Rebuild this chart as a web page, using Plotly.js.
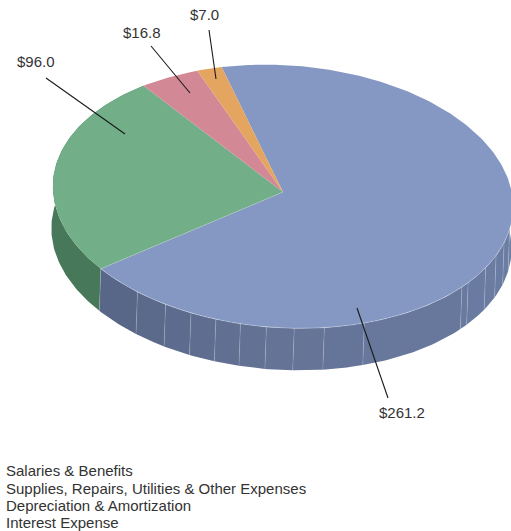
<!DOCTYPE html>
<html><head><meta charset="utf-8">
<script src="https://cdn.plot.ly/plotly-3.0.1.min.js"></script>
<style>html,body{margin:0;padding:0;background:#fff;overflow:hidden}#c{width:511px;height:531px}</style>
</head><body><div id="c"></div>
<script>
const categories = ["Salaries & Benefits","Supplies, Repairs, Utilities & Other Expenses","Depreciation & Amortization","Interest Expense"];
const values = [261.2, 96.0, 16.8, 7.0];
const valueLabels = ["$261.2","$96.0","$16.8","$7.0"];
const topColors = ["#8498c3","#72ae87","#d38896","#e3a560"];
const greenSide = "#47785a";
const facetAngles = [102,108,114,120,128,130.5,160,170,177.3,184,190.3,196.4,202.8,209.7,218];

const cx=283, cy=192, B=230, A=131.3, k=0.0342, shear=0.044, depth=42, lean=-1.5, startDeg=-16;
const rad=d=>d*Math.PI/180;
function rim(th,low){
  const u=Math.sin(rad(th)), v=Math.cos(rad(th)), d=1+k*v;
  const X=B*u/d, Y=-A*v/d+shear*X;
  return [cx+X+(low?lean:0), cy+Y+(low?depth:0)];
}
function arc(a,b,low){const p=[],n=Math.max(2,Math.ceil(Math.abs(b-a)));for(let i=0;i<=n;i++)p.push(rim(a+(b-a)*i/n,low));return p;}
function mix(c1,c2,t){return 'rgb('+c1.map((c,i)=>Math.round(c+(c2[i]-c)*t)).join(',')+')';}
function sideColor(th){
  const l=[86,101,134], m=[100,115,150], r=[107,126,164];
  return th>180?mix(m,l,(th-180)/50):mix(r,m,(th-100)/80);
}
const total=values.reduce((a,b)=>a+b,0);
const spans=[];let acc=startDeg;
values.forEach(v=>{spans.push([acc,acc+v/total*360]);acc+=v/total*360;});
const traces=[];
function poly(pts,color){traces.push({type:'scatter',mode:'lines',x:pts.map(p=>p[0]),y:pts.map(p=>p[1]),fill:'toself',fillcolor:color,line:{width:0},hoverinfo:'skip',showlegend:false});}
function stroke(pts,color,w){traces.push({type:'scatter',mode:'lines',x:pts.map(p=>p[0]),y:pts.map(p=>p[1]),line:{color:color,width:w},hoverinfo:'skip',showlegend:false});}
const blueEnd=spans[0][1];
poly(arc(blueEnd,spans[1][1],false).concat(arc(spans[1][1],blueEnd,true)),greenSide);
const edges=[85].concat(facetAngles,[blueEnd]);
for(let i=0;i<edges.length-1;i++){
  const a=edges[i],b=edges[i+1];
  poly(arc(a,b,false).concat(arc(b,a,true)),sideColor((a+b)/2));
}
facetAngles.concat([blueEnd]).forEach(t=>stroke([rim(t,false),rim(t,true)],'rgba(255,255,255,0.16)',1));
spans.forEach((s,i)=>poly([[cx,cy]].concat(arc(s[0],s[1],false)),topColors[i]));
stroke(arc(95,blueEnd,false),'rgba(255,255,255,0.4)',0.7);
stroke([[cx,cy],rim(blueEnd,false)],'rgba(255,255,255,0.3)',0.6);
const leaders=[[[357,308],[388,398]],[[125,134],[46,78]],[[190,93],[151,46]],[[216,79],[209,30]]];
leaders.forEach(l=>stroke(l,'#1a1a1a',1.1));
const labelPos=[[402,412],[36,61],[141.5,32],[204,14]];
const txt='#333333', fam='"Liberation Sans", Arial, sans-serif';
const ann=valueLabels.map((t,i)=>({text:t,x:labelPos[i][0],y:labelPos[i][1],xref:'x',yref:'y',showarrow:false,xanchor:'center',yanchor:'middle',font:{family:fam,size:15,color:txt}}));
const legendY=[470,488,505,522];
categories.forEach((c,i)=>ann.push({text:c,x:6,y:legendY[i],xref:'x',yref:'y',showarrow:false,xanchor:'left',yanchor:'middle',xshift:-2,font:{family:fam,size:15,color:txt}}));
Plotly.newPlot('c',traces,{
  width:511,height:531,margin:{l:0,r:0,t:0,b:0},paper_bgcolor:'#fff',plot_bgcolor:'#fff',showlegend:false,
  xaxis:{range:[0,511],visible:false,fixedrange:true},
  yaxis:{range:[531,0],visible:false,fixedrange:true},
  annotations:ann
},{displayModeBar:false,staticPlot:true});
</script></body></html>
